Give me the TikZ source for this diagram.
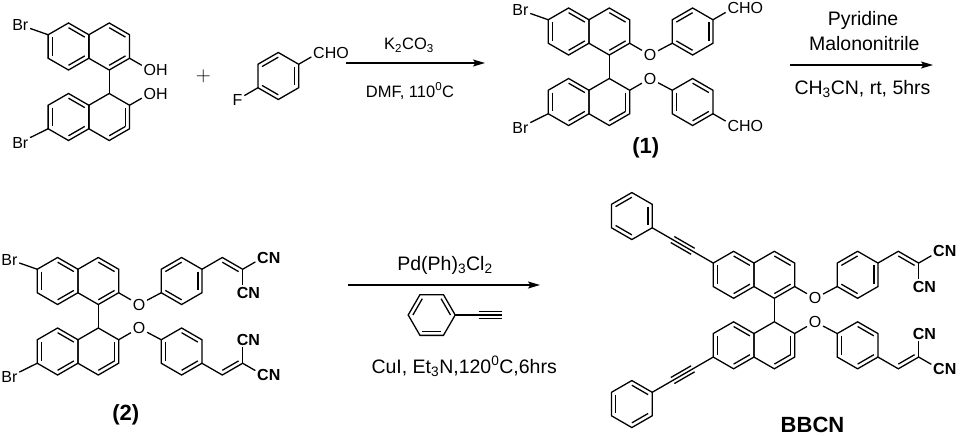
\documentclass[tikz,border=0pt]{standalone}
\usepackage{fontspec}
\setmainfont{Liberation Sans}
\usetikzlibrary{calc,arrows.meta}

\newcommand{\bondlen}{23.5}
% hexagon with vertical sides, corners T, UR, LR, B, LL, UL
\newcommand{\hexring}[2]{%
  \coordinate (#1) at #2;
  \foreach \vx/\ax in {T/-90,UR/-30,LR/30,B/90,LL/150,UL/-150}
    \coordinate (#1\vx) at ($(#1)+(\ax:\bondlen)$);
  \draw (#1T) -- (#1UR) -- (#1LR) -- (#1B) -- (#1LL) -- (#1UL) -- cycle;
}
% inner line of a ring double bond
\newcommand{\dbl}[3]{\draw ($(#1#2)!.2!(#1)$) -- ($(#1#3)!.2!(#1)$);}
% 1,1'-binaphthyl core, #2 = centre of the upper left ring
\newcommand{\binap}[2]{%
  \hexring{#1a}{#2}
  \hexring{#1b}{($(#1a)+(2*0.866*\bondlen,0)$)}
  \hexring{#1c}{($(#1a)+(0,3*\bondlen)$)}
  \hexring{#1d}{($(#1a)+(2*0.866*\bondlen,3*\bondlen)$)}
  \draw (#1bB) -- (#1dT);
  \dbl{#1a}{UL}{LL} \dbl{#1a}{T}{UR} \dbl{#1a}{B}{LR}
  \dbl{#1b}{T}{UR} \dbl{#1b}{LR}{B}
  \dbl{#1c}{UL}{LL} \dbl{#1c}{T}{UR} \dbl{#1c}{B}{LR}
  \dbl{#1d}{UR}{LR} \dbl{#1d}{B}{LR}
}
\newcommand{\dibromo}[1]{%
  \node[atom] (#1br1) at ($(#1aUL)+(-150:\bondlen)+(-7.5,2)$) {Br};
  \node[atom] (#1br2) at ($(#1cLL)+(150:\bondlen)+(-7.5,2)$) {Br};
  \draw (#1aUL) -- (#1br1);
  \draw (#1cLL) -- (#1br2);
}
% binaphthyl with two aryl ethers
\newcommand{\diaryl}[2]{%
  \binap{#1}{#2}
  \node[atom] (#1o1) at ($(#1bLR)+(30:\bondlen)$) {O};
  \node[atom] (#1o2) at ($(#1dUR)+(-30:\bondlen)$) {O};
  \hexring{#1ph1}{($(#1a)+(124,0)$)}
  \hexring{#1ph2}{($(#1a)+(124,3*\bondlen)$)}
  \draw (#1bLR) -- (#1o1) -- (#1ph1LL);
  \draw (#1dUR) -- (#1o2) -- (#1ph2UL);
  \dbl{#1ph1}{T}{UL} \dbl{#1ph1}{UR}{LR} \dbl{#1ph1}{B}{LL}
  \dbl{#1ph2}{UL}{LL} \dbl{#1ph2}{T}{UR} \dbl{#1ph2}{B}{LR}
}
% the two dicyanovinyl ends
\newcommand{\dicyano}[1]{%
  \coordinate (#1v1) at ($(#1ph1UR)+(-30:\bondlen)$);
  \coordinate (#1c1) at ($(#1v1)+(30:\bondlen)$);
  \coordinate (#1h1) at ($(#1v1)+(0,\bondlen)$);
  \node[nitrile] (#1cn1) at ($(#1c1)+(-30:\bondlen)$) {C\rlap{N}};
  \node[nitrile] (#1cn2) at ($(#1c1)+(0,\bondlen)$) {C\rlap{N}};
  \draw (#1ph1UR) -- (#1v1) -- (#1c1) -- (#1cn1);
  \draw (#1c1) -- (#1cn2);
  \draw ($(#1v1)!.2!(#1h1)$) -- ($(#1c1)!.2!(#1h1)$);
  \coordinate (#1v2) at ($(#1ph2LR)+(30:\bondlen)$);
  \coordinate (#1c2) at ($(#1v2)+(-30:\bondlen)$);
  \coordinate (#1h2) at ($(#1v2)+(0,-\bondlen)$);
  \node[nitrile] (#1cn3) at ($(#1c2)+(0,-\bondlen)$) {C\rlap{N}};
  \node[nitrile] (#1cn4) at ($(#1c2)+(30:\bondlen)$) {C\rlap{N}};
  \draw (#1ph2LR) -- (#1v2) -- (#1c2) -- (#1cn4);
  \draw (#1c2) -- (#1cn3);
  \draw ($(#1v2)!.2!(#1h2)$) -- ($(#1c2)!.2!(#1h2)$);
}

\tikzset{
  atom/.style={inner sep=1.2pt,font=\fontsize{16}{18}\selectfont},
  nitrile/.style={atom,font=\fontsize{16}{18}\selectfont\bfseries},
  condsm/.style={anchor=base,font=\fontsize{16.5}{19}\selectfont},
  cond/.style={anchor=base,font=\fontsize{19.5}{22}\selectfont},
  cmpd/.style={anchor=base,font=\fontsize{22}{24}\selectfont\bfseries},
  rxn/.style={-{Stealth[length=12pt,width=7pt,inset=2.5pt]}},
}

\begin{document}
\begin{tikzpicture}[x=1pt,y=-1pt,line width=1.3pt]
  \useasboundingbox (0,0) rectangle (961,436);

  % 6,6'-dibromo-BINOL
  \binap{p}{(68.5,46.5)}
  \dibromo{p}
  \node[atom] (poh1) at ($(pbLR)+(30:\bondlen)$) {O\rlap{H}};
  \node[atom] (poh2) at ($(pdUR)+(-30:\bondlen)$) {O\rlap{H}};
  \draw (pbLR) -- (poh1);
  \draw (pdUR) -- (poh2);

  \node[font=\fontsize{22}{22}\selectfont] (plus) at (203.3,76) {$+$};

  % 4-fluorobenzaldehyde
  \hexring{fb}{(278.3,76)}
  \dbl{fb}{T}{UL} \dbl{fb}{UR}{LR} \dbl{fb}{B}{LL}
  \node[atom] (fbcho) at ($(fbUR)+(-30:\bondlen)$) {C\rlap{HO}};
  \node[atom] (fbf) at ($(fbLL)+(150:\bondlen)$) {F};
  \draw (fbUR) -- (fbcho);
  \draw (fbLL) -- (fbf);

  % step 1
  \coordinate (r1s) at (346,63);
  \coordinate (r1e) at (485,63);
  \draw[rxn] (r1s) -- (r1e);
  \node[condsm] (k2co3) at (409,50) {K\textsubscript{2}CO\textsubscript{3}};
  \node[condsm] (dmf) at (410,97) {DMF, 110\textsuperscript{0}C};

  % compound 1
  \diaryl{m}{(568.6,31.5)}
  \dibromo{m}
  \node[atom] (mcho1) at ($(mph1UR)+(-30:\bondlen)$) {C\rlap{HO}};
  \node[atom] (mcho2) at ($(mph2LR)+(30:\bondlen)$) {C\rlap{HO}};
  \draw (mph1UR) -- (mcho1);
  \draw (mph2LR) -- (mcho2);
  \node[cmpd] (lab1) at (645.8,153.3) {(1)};

  % step 2
  \coordinate (r2s) at (790,65);
  \coordinate (r2e) at (933,65);
  \draw[rxn] (r2s) -- (r2e);
  \node[cond] (pyr) at (863,26) {Pyridine};
  \node[cond] (malo) at (864.3,50.7) {Malononitrile};
  \node[cond] (mecn) at (862.5,94) {CH\textsubscript{3}CN, rt, 5hrs};

  % compound 2
  \diaryl{q}{(57.6,281)}
  \dibromo{q}
  \dicyano{q}
  \node[cmpd] (lab2) at (125.8,420) {(2)};

  % step 3
  \coordinate (r3s) at (348.3,285);
  \coordinate (r3e) at (540,285);
  \draw[rxn] (r3s) -- (r3e);
  \node[cond] (pdcat) at (445,270) {Pd(Ph)\textsubscript{3}Cl\textsubscript{2}};
  \node[cond] (cui) at (464.2,373.3) {CuI, Et\textsubscript{3}N,120\textsuperscript{0}C,6hrs};
  % phenylacetylene
  \coordinate (yn) at (431.7,315);
  \foreach \vx/\ax in {R/0,BR/60,BL/120,L/180,TL/-120,TR/-60}
    \coordinate (yn\vx) at ($(yn)+(\ax:\bondlen)$);
  \draw (ynR) -- (ynBR) -- (ynBL) -- (ynL) -- (ynTL) -- (ynTR) -- cycle;
  \dbl{yn}{L}{TL} \dbl{yn}{TR}{R} \dbl{yn}{BR}{BL}
  \coordinate (yn1) at ($(ynR)+(\bondlen,0)$);
  \coordinate (yn2) at ($(yn1)+(\bondlen,0)$);
  \draw (ynR) -- (yn2);
  \draw ($(yn1)+(0,-3.5)$) -- ($(yn2)+(0,-3.5)$);
  \draw ($(yn1)+(0,3.5)$) -- ($(yn2)+(0,3.5)$);

  % BBCN
  \diaryl{z}{(733.6,274.8)}
  \dicyano{z}
  \hexring{zph3}{($(zaUL)+(-150:4*\bondlen)$)}
  \hexring{zph4}{($(zcLL)+(150:4*\bondlen)$)}
  \dbl{zph3}{T}{UL} \dbl{zph3}{UR}{LR} \dbl{zph3}{B}{LL}
  \dbl{zph4}{UL}{LL} \dbl{zph4}{T}{UR} \dbl{zph4}{B}{LR}
  \coordinate (zk1) at ($(zaUL)+(-150:\bondlen)$);
  \coordinate (zk2) at ($(zk1)+(-150:\bondlen)$);
  \coordinate (zk3) at ($(zcLL)+(150:\bondlen)$);
  \coordinate (zk4) at ($(zk3)+(150:\bondlen)$);
  \draw (zaUL) -- (zph3LR);
  \draw ($(zk1)+(-60:3.5)$) -- ($(zk2)+(-60:3.5)$);
  \draw ($(zk1)+(120:3.5)$) -- ($(zk2)+(120:3.5)$);
  \draw (zcLL) -- (zph4UR);
  \draw ($(zk3)+(60:3.5)$) -- ($(zk4)+(60:3.5)$);
  \draw ($(zk3)+(-120:3.5)$) -- ($(zk4)+(-120:3.5)$);
  \node[cmpd] (lab3) at (812.5,432.5) {BBCN};
\end{tikzpicture}
\end{document}
